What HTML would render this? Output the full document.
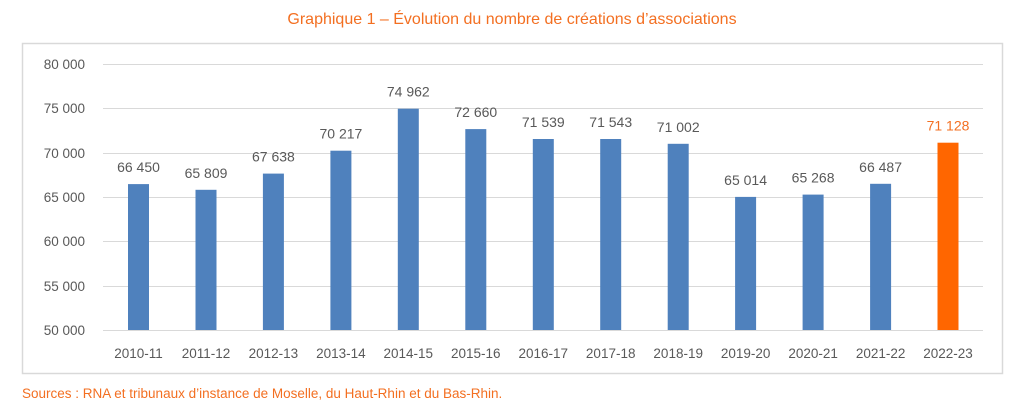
<!DOCTYPE html>
<html><head><meta charset="utf-8"><style>
body{margin:0;background:#fff;}
svg{display:block;font-family:"Liberation Sans",sans-serif;}
</style></head><body>
<svg width="1024" height="412" viewBox="0 0 1024 412">
<rect width="1024" height="412" fill="#fff"/>
<text x="512" y="24" text-anchor="middle" fill="#f36f21" font-size="16">Graphique 1 – Évolution du nombre de créations d’associations</text>
<rect x="22.5" y="43.5" width="980" height="330" fill="#fff" stroke="#d9d9d9" stroke-width="1.5"/>
<g stroke="#d9d9d9" stroke-width="1">
<line x1="103" x2="983" y1="64.5" y2="64.5"/>
<line x1="103" x2="983" y1="108.5" y2="108.5"/>
<line x1="103" x2="983" y1="153.5" y2="153.5"/>
<line x1="103" x2="983" y1="197.5" y2="197.5"/>
<line x1="103" x2="983" y1="241.5" y2="241.5"/>
<line x1="103" x2="983" y1="286.5" y2="286.5"/>
<line x1="103" x2="983" y1="330.5" y2="330.5"/>
</g>
<g fill="#595959" font-size="13.5" text-anchor="end">
<text x="85" y="69">80 000</text>
<text x="85" y="113">75 000</text>
<text x="85" y="158">70 000</text>
<text x="85" y="202">65 000</text>
<text x="85" y="246">60 000</text>
<text x="85" y="291">55 000</text>
<text x="85" y="335">50 000</text>
</g>
<g fill="#4f81bd">
<rect x="128" y="184.1" width="21" height="145.9"/>
<rect x="195.5" y="189.8" width="21" height="140.2"/>
<rect x="262.9" y="173.6" width="21" height="156.4"/>
<rect x="330.4" y="150.7" width="21" height="179.3"/>
<rect x="397.8" y="108.7" width="21" height="221.3"/>
<rect x="465.3" y="129.1" width="21" height="200.9"/>
<rect x="532.8" y="139" width="21" height="191"/>
<rect x="600.2" y="139" width="21" height="191"/>
<rect x="667.7" y="143.8" width="21" height="186.2"/>
<rect x="735.1" y="196.9" width="21" height="133.1"/>
<rect x="802.6" y="194.6" width="21" height="135.4"/>
<rect x="870.1" y="183.8" width="21" height="146.2"/>
</g>
<rect x="937.5" y="142.7" width="21" height="187.3" fill="#ff6600"/>
<g fill="#595959" font-size="14" text-anchor="middle">
<text x="138.5" y="172.1">66 450</text>
<text x="206" y="177.8">65 809</text>
<text x="273.4" y="161.6">67 638</text>
<text x="340.9" y="138.7">70 217</text>
<text x="408.3" y="96.7">74 962</text>
<text x="475.8" y="117.1">72 660</text>
<text x="543.3" y="127">71 539</text>
<text x="610.7" y="127">71 543</text>
<text x="678.2" y="131.8">71 002</text>
<text x="745.6" y="184.9">65 014</text>
<text x="813.1" y="182.6">65 268</text>
<text x="880.6" y="171.8">66 487</text>
<text x="948" y="130.7" fill="#f36f21">71 128</text>
</g>
<g fill="#595959" font-size="13.5" text-anchor="middle">
<text x="138.5" y="358">2010-11</text>
<text x="206" y="358">2011-12</text>
<text x="273.4" y="358">2012-13</text>
<text x="340.9" y="358">2013-14</text>
<text x="408.3" y="358">2014-15</text>
<text x="475.8" y="358">2015-16</text>
<text x="543.3" y="358">2016-17</text>
<text x="610.7" y="358">2017-18</text>
<text x="678.2" y="358">2018-19</text>
<text x="745.6" y="358">2019-20</text>
<text x="813.1" y="358">2020-21</text>
<text x="880.6" y="358">2021-22</text>
<text x="948" y="358">2022-23</text>
</g>
<text x="22" y="398" fill="#f36f21" font-size="13.5">Sources : RNA et tribunaux d’instance de Moselle, du Haut-Rhin et du Bas-Rhin.</text>
</svg>
</body></html>
